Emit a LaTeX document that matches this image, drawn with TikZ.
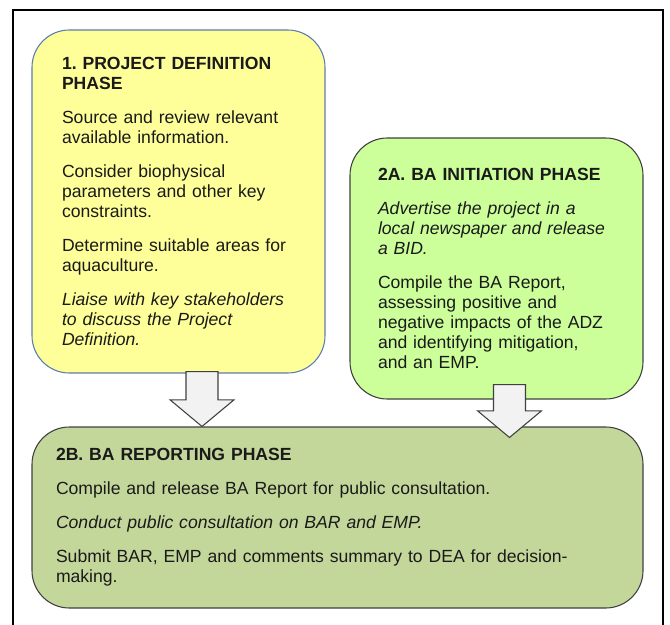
\documentclass[tikz,border=0pt]{standalone}
\usepackage{fontspec}
\setmainfont{Liberation Sans}
\usetikzlibrary{positioning,calc}
\definecolor{pdyellow}{HTML}{FFFF99}
\definecolor{pdborder}{HTML}{5B7DB0}
\definecolor{inigreen}{HTML}{CCFF99}
\definecolor{repgreen}{HTML}{C4D79B}
\definecolor{boxline}{HTML}{404040}
\definecolor{arrowfill}{HTML}{F2F2F2}
\definecolor{textcol}{HTML}{1A1A1A}

\newcommand{\blockarrow}[2]{%
  \draw[blockarr] let \p1=(#1), \p2=(#2) in
    (\x1-12pt,\y1) -- (\x1+12pt,\y1) -- (\x1+12pt,\y2+20pt) -- (\x1+24pt,\y2+20pt)
    -- (\x2,\y2) -- (\x1-24pt,\y2+20pt) -- (\x1-12pt,\y2+20pt) -- cycle;}

\begin{document}
\frenchspacing
\begin{tikzpicture}[x=0.75pt, y=-0.75pt,
    every node/.style={font=\fontsize{13.2}{15}\selectfont, text=textcol, align=left, inner ysep=0pt},
    phasebox/.style={draw, rounded corners=28pt, line width=0.8pt},
    blockarr/.style={draw=boxline, fill=arrowfill, line width=0.8pt, line join=miter}]

    \useasboundingbox (0,0) rectangle (670,624);
    \draw[line width=1.3pt] (13,630) -- (13,10) -- (663,10) -- (663,630);

    \node [phasebox, draw=pdborder, fill=pdyellow, text width=174.75pt, inner xsep=22.5pt,
           minimum height=257.25pt] (pd) at (178.5,201.5)
        {\textbf{1. PROJECT DEFINITION}\\\textbf{PHASE}\\[11pt]
         Source and review relevant\\available information.\\[10.5pt]
         Consider biophysical\\parameters and other key\\constraints.\\[10.5pt]
         Determine suitable areas for\\aquaculture.\\[10.5pt]
         \textit{Liaise with key stakeholders}\\\textit{to discuss the Project}\\\textit{Definition.}};

    \node [phasebox, draw=boxline, fill=inigreen, text width=177.75pt, inner xsep=21pt,
           minimum height=195.75pt] (ini) at (496.5,268.5)
        {\textbf{2A. BA INITIATION PHASE}\\[10.5pt]
         \textit{Advertise the project in a}\\\textit{local newspaper and release}\\\textit{a BID.}\\[10.5pt]
         Compile the BA Report,\\assessing positive and\\negative impacts of the ADZ\\and identifying mitigation,\\and an EMP.};

    \node [phasebox, draw=boxline, fill=repgreen, text width=422.25pt, inner xsep=18pt,
           minimum height=135.75pt] (rep) at (337.5,517.5)
        {\textbf{2B. BA REPORTING PHASE}\\[10.5pt]
         Compile and release BA Report for public consultation.\\[10.5pt]
         \textit{Conduct public consultation on BAR and EMP.}\\[10.5pt]
         Submit BAR, EMP and comments summary to DEA for decision-\\making.};

    \path (pd.south) ++(23.5,-2) coordinate (a1top);
    \coordinate (a1tip) at (a1top |- rep.north);
    \path (ini.south) ++(13,-15) coordinate (a2top);
    \path (a2top |- rep.north) ++(0,11) coordinate (a2tip);

    \blockarrow{a1top}{a1tip}
    \blockarrow{a2top}{a2tip}
\end{tikzpicture}
\end{document}
